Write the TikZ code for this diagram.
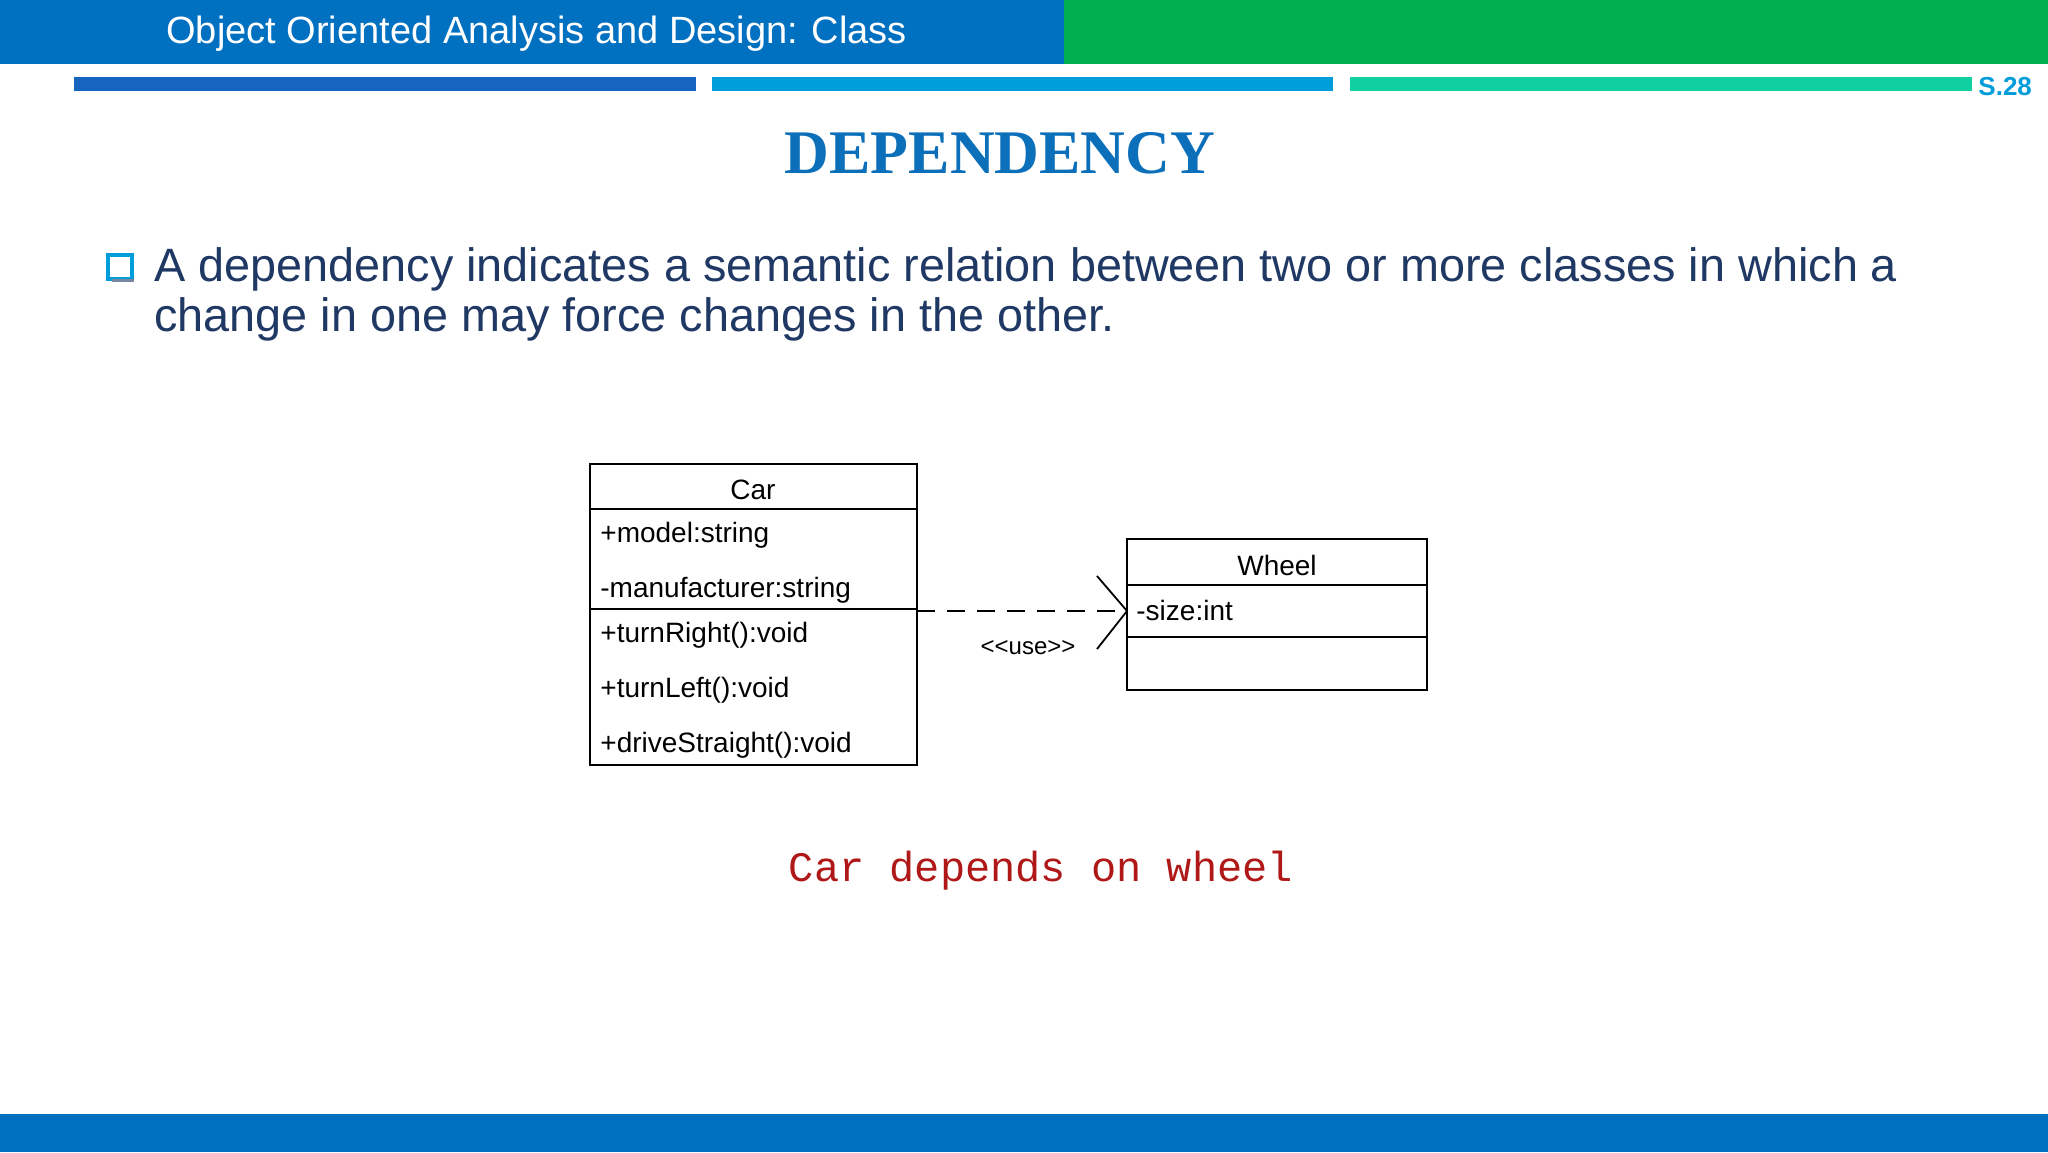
\documentclass[tikz,border=0pt]{standalone}
\usepackage{fontspec}
\setmainfont{Liberation Sans}
\newfontfamily\serifbf{Liberation Serif}
\newfontfamily\monof{Liberation Mono}
\definecolor{topblue}{HTML}{0070C0}
\definecolor{topgreen}{HTML}{00B050}
\definecolor{s1}{HTML}{1565C0}
\definecolor{s2}{HTML}{009DDB}
\definecolor{s3}{HTML}{10CFA0}
\definecolor{navy}{HTML}{1F3864}
\definecolor{ttl}{HTML}{0B6FBA}
\definecolor{dred}{HTML}{B01818}
\tikzset{
 uml/.style={draw=black,line width=1.4pt},
 umltxt/.style={anchor=west,inner sep=0pt,font=\fontsize{14}{16}\selectfont},
}
\begin{document}
\begin{tikzpicture}[x=0.5pt,y=-0.5pt]
\useasboundingbox (0,0) rectangle (2048,1152);
\fill[white] (0,0) rectangle (2048,1152);
% header
\fill[topblue] (0,0) rectangle (1064,64);
\fill[topgreen] (1064,0) rectangle (2048,64);
\node[anchor=west,text=white,inner sep=0pt,font=\fontsize{19}{22}\selectfont] (hdr) at (166,34) {Object Oriented Analysis and Design: Class};
\fill[s1] (74,77) rectangle (696,91);
\fill[s2] (712,77) rectangle (1333,91);
\fill[s3] (1350,77) rectangle (1972,91);
\node[anchor=west,text=s2,inner sep=0pt,font=\bfseries\fontsize{13}{15}\selectfont] (sn) at (1978,87) {S.28};
\node[text=ttl,inner sep=0pt,font=\serifbf\bfseries\fontsize{31}{35}\selectfont] (title) at (1000,153) {DEPENDENCY};
% bullet
\draw[s2,line width=1.8pt] (108,255) rectangle (132,279);
\fill[navy!60] (112,279) rectangle (134,282);
\node[anchor=west,text=navy,inner sep=0pt,font=\fontsize{23.4}{28}\selectfont] (l1) at (154,269) {A dependency indicates a semantic relation between two or more classes in which a};
\node[anchor=west,text=navy,inner sep=0pt,font=\fontsize{23.4}{28}\selectfont] (l2) at (154,319) {change in one may force changes in the other.};
% Car class
\draw[uml] (590,464) rectangle (917,765);
\draw[uml] (590,509) -- (917,509);
\draw[uml] (590,609) -- (917,609);
\node[inner sep=0pt,font=\fontsize{14}{16}\selectfont] (car) at (753,490) {Car};
\node[umltxt] (a1) at (600,535) {+model:string};
\node[umltxt] (a2) at (600,590) {-manufacturer:string};
\node[umltxt] (m1) at (600,635) {+turnRight():void};
\node[umltxt] (m2) at (600,690) {+turnLeft():void};
\node[umltxt] (m3) at (600,745) {+driveStraight():void};
% Wheel class
\draw[uml] (1127,539) rectangle (1427,690);
\draw[uml] (1127,585) -- (1427,585);
\draw[uml] (1127,637) -- (1427,637);
\node[inner sep=0pt,font=\fontsize{14}{16}\selectfont] (wheel) at (1277,565) {Wheel};
\node[umltxt] (w1) at (1136,610) {-size:int};
% dependency
\coordinate (cs) at (917,611);
\coordinate (we) at (1127,611);
\draw[line width=1.4pt,dash pattern=on 9pt off 6pt] (cs) -- (we);
\draw[line width=0.9pt] (1097,576) -- (we) -- (1097,649);
\node[inner sep=0pt,font=\fontsize{12}{14}\selectfont] (use) at (1028,648) {<{}<use>{}>};
% caption
\node[text=dred,inner sep=0pt,font=\monof\fontsize{21}{24}\selectfont] (cap) at (1041,871) {Car depends on wheel};
% footer
\fill[topblue] (0,1114) rectangle (2048,1152);
\end{tikzpicture}
\end{document}
